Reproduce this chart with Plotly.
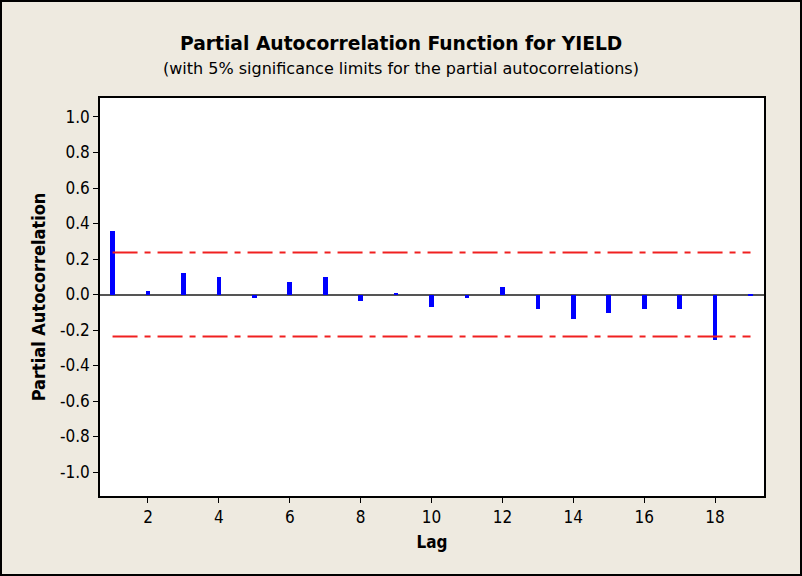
import plotly.graph_objects as go

lags = list(range(1, 20))
pacf = [0.36, 0.022, 0.124, 0.096, -0.02, 0.073, 0.096, -0.036, 0.005, -0.071,
        -0.02, 0.045, -0.08, -0.139, -0.105, -0.08, -0.08, -0.257, -0.005]
sig_limit = 0.236
y_ticks = [-1.0, -0.8, -0.6, -0.4, -0.2, 0.0, 0.2, 0.4, 0.6, 0.8, 1.0]
x_ticks = [2, 4, 6, 8, 10, 12, 14, 16, 18]

FONT = "DejaVu Sans Condensed, DejaVu Sans, sans-serif"
FONT_REG = "DejaVu Sans, sans-serif"
BG = "#EEEAE0"

fig = go.Figure()
fig.add_trace(go.Bar(x=lags, y=pacf, width=0.13, marker=dict(color="#0000FF", line=dict(width=0)),
                     showlegend=False))
for s in (sig_limit, -sig_limit):
    fig.add_trace(go.Scatter(x=[lags[0], lags[-1]], y=[s, s], mode="lines",
                             line=dict(color="#F02020", width=2, dash="25px,7px,6px,7px"),
                             showlegend=False))

fig.update_layout(
    width=802, height=576,
    margin=dict(l=100, r=38, t=98, b=80),
    paper_bgcolor=BG, plot_bgcolor="white",
    font=dict(family=FONT, size=17, color="black"),
    bargap=0,
    xaxis=dict(range=[0.646, 19.38], tickvals=x_ticks, ticktext=[str(v) for v in x_ticks],
               showgrid=False, zeroline=False, showline=True, linecolor="black", linewidth=1.5,
               mirror=True, ticks="outside", ticklen=5, tickcolor="black",
               title=dict(text="<b>Lag</b>", font=dict(size=17), standoff=10)),
    yaxis=dict(range=[-1.135, 1.107], tickvals=y_ticks, ticktext=[f"{v:.1f}" for v in y_ticks],
               showgrid=False, zeroline=True, zerolinecolor="#555555", zerolinewidth=2,
               showline=True, linecolor="black", linewidth=1.5, mirror=True,
               ticks="outside", ticklen=5, tickcolor="black",
               title=dict(text="<b>Partial Autocorrelation</b>", font=dict(size=18), standoff=10)),
    annotations=[
        dict(text="<b>Partial Autocorrelation Function for YIELD</b>", xref="paper", yref="paper",
             x=0.4526, y=1.138, showarrow=False, font=dict(family=FONT_REG, size=18.7),
             xanchor="center", yanchor="middle"),
        dict(text="(with 5% significance limits for the partial autocorrelations)", xref="paper", yref="paper",
             x=0.4526, y=1.075, showarrow=False, font=dict(family=FONT_REG, size=16),
             xanchor="center", yanchor="middle"),
    ],
    shapes=[dict(type="rect", xref="paper", yref="paper",
                 x0=-99/664, x1=701/664, y0=-79/398, y1=1 + 97/398,
                 line=dict(color="black", width=2), layer="above")],
)

fig.write_html("out.html")
